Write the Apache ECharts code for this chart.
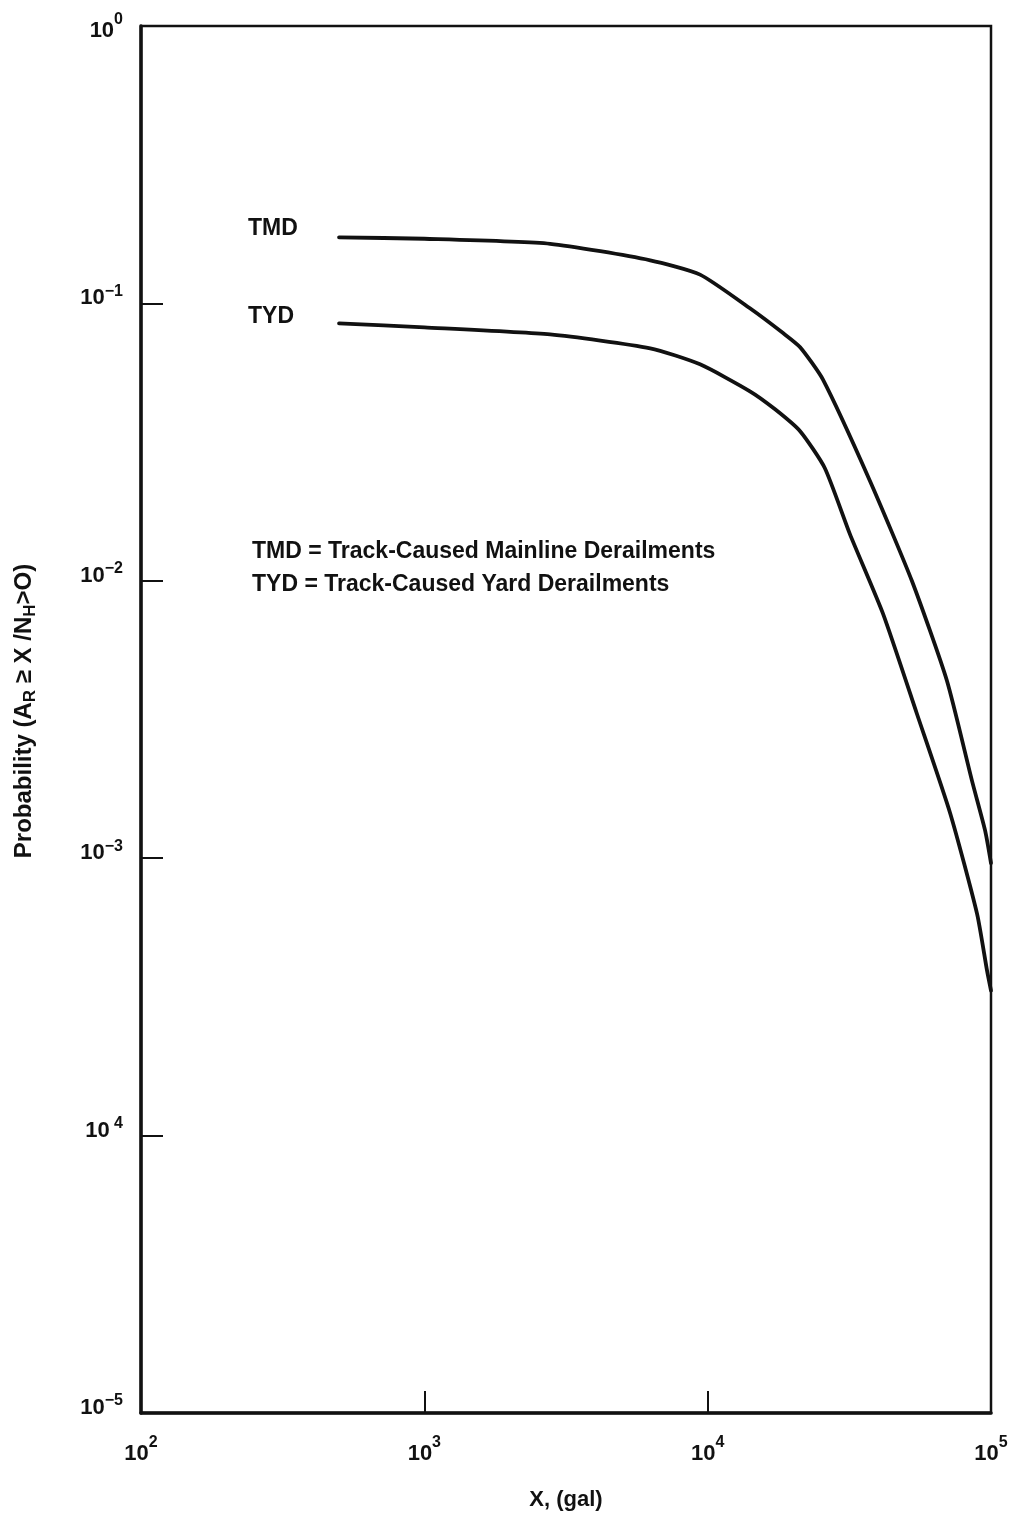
<!DOCTYPE html>
<html>
<head>
<meta charset="utf-8">
<script src="https://cdn.jsdelivr.net/npm/echarts@6/dist/echarts.min.js"></script>
<style>
html,body{margin:0;padding:0;background:#fff;}
#chart{width:1017px;height:1516px;}
</style>
</head>
<body>
<div id="chart"></div>
<script>
// Data (x in gallons, y probability)
const tmdX = [500, 1000, 2780, 6270, 9400, 14100, 18500, 21200, 25500, 37400, 52600, 69900, 85700, 95300, 100000];
const tmdY = [0.173, 0.171, 0.164, 0.143, 0.127, 0.096, 0.078, 0.0695, 0.0532, 0.0229, 0.00998, 0.00436, 0.0019, 0.00126, 0.00096];
const tydX = [500, 1000, 2780, 6270, 9400, 14100, 17300, 21200, 25900, 31800, 41600, 54800, 71800, 89300, 96800, 100000];
const tydY = [0.0847, 0.082, 0.0773, 0.0689, 0.0603, 0.0482, 0.0415, 0.0346, 0.0255, 0.0147, 0.0076, 0.00331, 0.00145, 0.00063, 0.000394, 0.000333];
// Tick labels (exponent as printed)
const xTickExp = {2: '2', 3: '3', 4: '4', 5: '5'};
const yTickExp = {'-5': '−5', '-4': ' 4', '-3': '−3', '-2': '−2', '-1': '−1', '0': '0'};
const seriesNames = ['TMD', 'TYD'];
const legendLines = ['TMD = Track-Caused Mainline Derailments', 'TYD = Track-Caused Yard Derailments'];

const FONT = 'Liberation Sans';
const chart = echarts.init(document.getElementById('chart'), null, {renderer: 'canvas'});

function pairs(xs, ys) { return xs.map((x, i) => [x, ys[i]]); }
const txtFont = 'bold 23px "' + FONT + '"';

chart.setOption({
  backgroundColor: '#ffffff',
  animation: false,
  textStyle: {fontFamily: FONT, color: '#111'},
  grid: {left: 141, right: 26, top: 26, bottom: 103, show: true, borderColor: '#111', borderWidth: 2.5, backgroundColor: 'transparent'},
  xAxis: {
    type: 'log', logBase: 10, min: 100, max: 100000,
    name: 'X, (gal)', nameLocation: 'middle', nameGap: 76,
    nameTextStyle: {fontFamily: FONT, fontSize: 22, fontWeight: 'bold', color: '#111'},
    axisLine: {lineStyle: {color: '#111', width: 3.5}},
    axisTick: {inside: true, length: 22, lineStyle: {color: '#111', width: 2}},
    minorTick: {show: false},
    splitLine: {show: false},
    axisLabel: {
      margin: 22,
      formatter: function (v) {
        const e = Math.round(Math.log10(v));
        return '{b|10}{s|' + xTickExp[e] + '}';
      },
      rich: {
        b: {fontFamily: FONT, fontSize: 22, fontWeight: 'bold', color: '#111', verticalAlign: 'bottom', lineHeight: 30},
        s: {fontFamily: FONT, fontSize: 16, fontWeight: 'bold', color: '#111', verticalAlign: 'top', lineHeight: 30, padding: [0, 0, 10, 0]}
      }
    }
  },
  yAxis: {
    type: 'log', logBase: 10, min: 0.00001, max: 1,
    axisLine: {lineStyle: {color: '#111', width: 3.5}},
    axisTick: {inside: true, length: 22, lineStyle: {color: '#111', width: 2}},
    minorTick: {show: false},
    splitLine: {show: false},
    axisLabel: {
      margin: 18,
      padding: [0, 0, 10, 0],
      formatter: function (v) {
        const e = Math.round(Math.log10(v));
        if (e === 0) return '{b0|10}{s0|' + yTickExp['0'] + '}';
        return '{b|10}{s|' + yTickExp[String(e)] + '}';
      },
      rich: {
        b: {fontFamily: FONT, fontSize: 22, fontWeight: 'bold', color: '#111', verticalAlign: 'middle', lineHeight: 30},
        s: {fontFamily: FONT, fontSize: 16, fontWeight: 'bold', color: '#111', verticalAlign: 'top', lineHeight: 30},
        b0: {fontFamily: FONT, fontSize: 22, fontWeight: 'bold', color: '#111', verticalAlign: 'bottom', lineHeight: 42},
        s0: {fontFamily: FONT, fontSize: 16, fontWeight: 'bold', color: '#111', verticalAlign: 'bottom', lineHeight: 42, padding: [0, 0, 14, 0]}
      }
    }
  },
  graphic: [
    {type: 'text', left: 248, top: 217, style: {text: seriesNames[0], font: txtFont, fill: '#111'}},
    {type: 'text', left: 248, top: 305, style: {text: seriesNames[1], font: txtFont, fill: '#111'}},
    {type: 'text', left: 252, top: 540, style: {text: legendLines[0], font: txtFont, fill: '#111'}},
    {type: 'text', left: 252, top: 573, style: {text: legendLines[1], font: txtFont, fill: '#111'}},
    {type: 'text', x: 24, y: 711, rotation: Math.PI / 2,
      style: {
        text: '{m|Probability (A}{sub|R}{m| ≥ X /N}{sub|H}{m|>O)}',
        align: 'center', verticalAlign: 'middle',
        rich: {
          m: {fontFamily: FONT, fontSize: 24, fontWeight: 'bold', fill: '#111', lineHeight: 30, verticalAlign: 'middle'},
          sub: {fontFamily: FONT, fontSize: 17, fontWeight: 'bold', fill: '#111', lineHeight: 30, verticalAlign: 'bottom', padding: [10, 0, 0, 0]}
        }
      }
    }
  ],
  series: [
    {name: seriesNames[0], type: 'line', data: pairs(tmdX, tmdY), symbol: 'none',
      smooth: 0.2,
      lineStyle: {color: '#111', width: 3.8, join: 'round', cap: 'round'}},
    {name: seriesNames[1], type: 'line', data: pairs(tydX, tydY), symbol: 'none',
      smooth: 0.2,
      lineStyle: {color: '#111', width: 3.8, join: 'round', cap: 'round'}}
  ]
});
</script>
</body>
</html>
